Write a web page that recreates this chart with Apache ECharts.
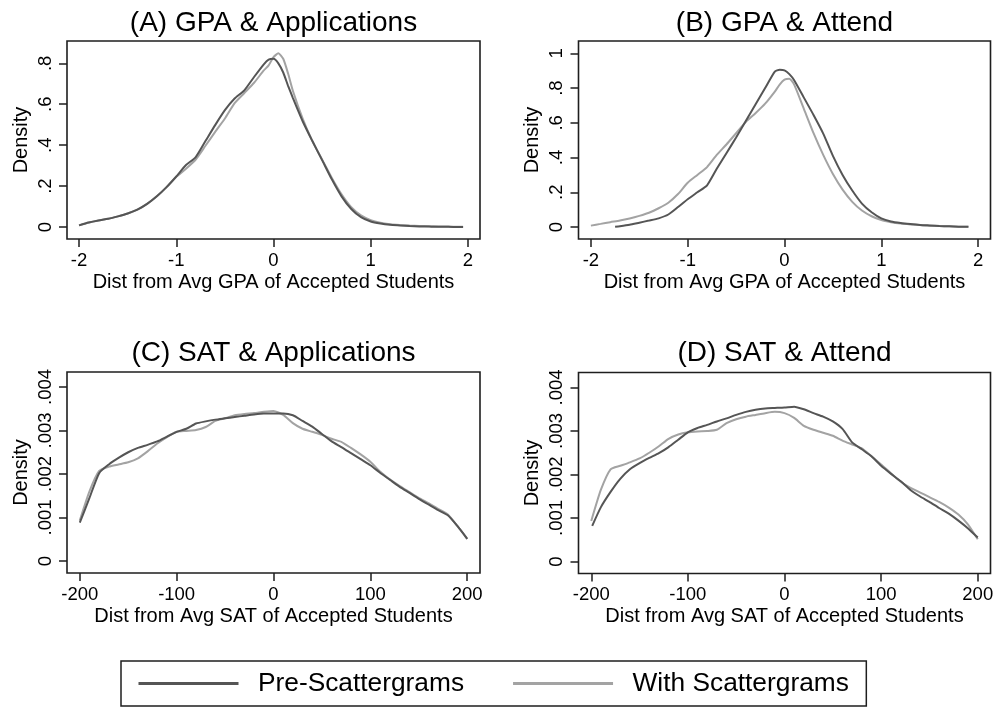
<!DOCTYPE html>
<html>
<head>
<meta charset="utf-8">
<script src="https://cdn.jsdelivr.net/npm/echarts@6/dist/echarts.min.js"></script>
<style>
  html, body { margin: 0; padding: 0; background: #fff; }
  #chart { width: 997px; height: 710px; }
</style>
</head>
<body>
<div id="chart"></div>
<script>
// ---------- DATA ----------
const seriesNames = ['Pre-Scattergrams', 'With Scattergrams'];
const panelTitles = ['(A) GPA & Applications', '(B) GPA & Attend', '(C) SAT & Applications', '(D) SAT & Attend'];
const xTitles = ['Dist from Avg GPA of Accepted Students', 'Dist from Avg GPA of Accepted Students',
                 'Dist from Avg SAT of Accepted Students', 'Dist from Avg SAT of Accepted Students'];
const yTitle = 'Density';

const gpaTicks = [-2, -1, 0, 1, 2];
const satTicks = [-200, -100, 0, 100, 200];
const yTicksA = [0, 0.2, 0.4, 0.6, 0.8];
const yTicksB = [0, 0.2, 0.4, 0.6, 0.8, 1];
const yTicksSAT = [0, 0.001, 0.002, 0.003, 0.004];

// Panel A
const xA = [-2,-1.9,-1.8,-1.7,-1.6,-1.5,-1.4,-1.3,-1.2,-1.1,-1,-0.9,-0.8,-0.7,-0.6,-0.5,-0.4,-0.3,-0.2,-0.1,-0.05,0,0.05,0.1,0.15,0.2,0.3,0.4,0.5,0.6,0.7,0.8,0.9,1,1.1,1.2,1.3,1.4,1.5,1.6,1.7,1.8,1.9,1.95];
const preA = [0.008,0.022,0.032,0.040,0.052,0.066,0.085,0.113,0.150,0.195,0.247,0.303,0.342,0.420,0.498,0.571,0.628,0.668,0.733,0.795,0.818,0.822,0.800,0.755,0.690,0.630,0.517,0.420,0.327,0.233,0.150,0.088,0.048,0.027,0.017,0.011,0.008,0.005,0.003,0.002,0.001,0.001,0.000,0.000];
const withA = [0.008,0.022,0.032,0.040,0.052,0.066,0.085,0.113,0.150,0.195,0.245,0.285,0.330,0.397,0.465,0.530,0.605,0.655,0.705,0.765,0.790,0.830,0.849,0.822,0.750,0.665,0.530,0.420,0.330,0.240,0.160,0.097,0.057,0.034,0.021,0.014,0.010,0.007,0.005,0.004,0.003,0.002,0.001,0.001];

// Panel B
const xBpre = [-1.75,-1.7,-1.6,-1.5,-1.4,-1.3,-1.2,-1.1,-1,-0.9,-0.8,-0.7,-0.6,-0.5,-0.4,-0.3,-0.2,-0.1,-0.05,0,0.05,0.1,0.2,0.3,0.4,0.5,0.6,0.7,0.8,0.9,1,1.1,1.2,1.3,1.4,1.5,1.6,1.7,1.8,1.9];
const preB = [0.002,0.005,0.013,0.025,0.037,0.050,0.072,0.115,0.160,0.200,0.240,0.335,0.425,0.515,0.610,0.705,0.800,0.895,0.906,0.902,0.880,0.845,0.745,0.645,0.538,0.410,0.300,0.210,0.135,0.085,0.050,0.032,0.023,0.017,0.012,0.009,0.006,0.004,0.002,0.001];
const xBwith = [-2,-1.9,-1.8,-1.7,-1.6,-1.5,-1.4,-1.3,-1.2,-1.1,-1,-0.9,-0.8,-0.7,-0.6,-0.5,-0.4,-0.3,-0.2,-0.1,-0.05,0,0.05,0.1,0.2,0.3,0.4,0.5,0.6,0.7,0.8,0.9,1,1.1,1.2,1.3,1.4,1.5,1.6,1.7,1.8,1.9];
const withB = [0.008,0.018,0.028,0.037,0.049,0.064,0.082,0.108,0.140,0.190,0.255,0.300,0.345,0.415,0.475,0.540,0.605,0.655,0.710,0.780,0.820,0.848,0.853,0.820,0.680,0.540,0.415,0.305,0.215,0.145,0.095,0.062,0.040,0.028,0.020,0.015,0.011,0.008,0.006,0.004,0.002,0.001];

// Panel C
const xC = [-200,-190,-180,-170,-160,-150,-140,-130,-120,-110,-100,-90,-80,-70,-60,-50,-40,-30,-20,-10,0,10,20,30,40,50,60,70,80,90,100,110,120,130,140,150,160,170,180,190,200];
const preC = [0.00088,0.00145,0.00202,0.00222,0.00237,0.00250,0.00260,0.00267,0.00275,0.00286,0.00297,0.00304,0.00316,0.00321,0.00325,0.00328,0.00331,0.00334,0.00337,0.00339,0.00339,0.00339,0.00335,0.00322,0.00309,0.00292,0.00275,0.00262,0.00248,0.00234,0.00220,0.00203,0.00187,0.00171,0.00157,0.00143,0.00130,0.00117,0.00105,0.00080,0.00051];
const withC = [0.00093,0.00160,0.00207,0.00217,0.00222,0.00227,0.00236,0.00252,0.00270,0.00285,0.00297,0.00299,0.00301,0.00308,0.00322,0.00328,0.00335,0.00338,0.00340,0.00343,0.00345,0.00336,0.00317,0.00304,0.00297,0.00290,0.00281,0.00274,0.00260,0.00245,0.00228,0.00206,0.00188,0.00173,0.00159,0.00145,0.00133,0.00120,0.00107,0.00080,0.00051];

// Panel D
const xDpre = [-199,-190,-180,-170,-160,-150,-140,-130,-120,-110,-100,-90,-80,-70,-60,-50,-40,-30,-20,-10,0,10,20,30,40,50,60,70,80,90,100,110,120,130,140,150,160,170,180,190,200];
const preD = [0.00082,0.00125,0.00160,0.00190,0.00212,0.00226,0.00238,0.00249,0.00263,0.00280,0.00297,0.00307,0.00314,0.00322,0.00329,0.00337,0.00344,0.00349,0.00352,0.00353,0.00354,0.00356,0.00350,0.00341,0.00333,0.00322,0.00305,0.00274,0.00258,0.00242,0.00220,0.00202,0.00185,0.00165,0.00150,0.00137,0.00123,0.00110,0.00094,0.00076,0.00055];
const xDwith = [-200,-190,-180,-170,-160,-150,-140,-130,-120,-110,-100,-90,-80,-70,-60,-50,-40,-30,-20,-10,0,10,20,30,40,50,60,70,80,90,100,110,120,130,140,150,160,170,180,190,200];
const withD = [0.00093,0.00165,0.00212,0.00220,0.00228,0.00237,0.00250,0.00265,0.00282,0.00292,0.00297,0.00299,0.00300,0.00303,0.00318,0.00327,0.00333,0.00337,0.00341,0.00344,0.00341,0.00330,0.00312,0.00303,0.00296,0.00289,0.00278,0.00269,0.00260,0.00242,0.00223,0.00203,0.00184,0.00170,0.00159,0.00148,0.00137,0.00124,0.00108,0.00085,0.00051];

// ---------- BUILD ----------
const FONT = '"Liberation Sans", Arial, Helvetica, sans-serif';
const DARK = '#555555';
const LIGHT = '#a3a3a3';
const zip = (xs, ys) => xs.map((x, i) => [x, ys[i]]);
const yfmt = v => v === 0 ? '0' : String(v).replace(/^(-?)0\./, '$1.');

const grids = [
  { left: 67, top: 41, width: 413, height: 198 },
  { left: 578.5, top: 41, width: 412, height: 198 },
  { left: 67, top: 372, width: 413, height: 201 },
  { left: 578.5, top: 372.5, width: 412, height: 201 }
].map(g => Object.assign(g, { show: true, borderColor: '#1e1e1e', borderWidth: 1.6, backgroundColor: '#fff', containLabel: false, outerBoundsMode: 'none' }));

const xRanges = [[-2.124, 2.124], [-2.128, 2.128], [-213.2, 213.2], [-213.2, 213.2]];
const yRanges = [[-0.0585, 0.909], [-0.069, 1.071], [-0.000276, 0.004345], [-0.000276, 0.004345]];
const xTickSets = [gpaTicks, gpaTicks, satTicks, satTicks];
const yTickSets = [yTicksA, yTicksB, yTicksSAT, yTicksSAT];

const xAxis = xRanges.map((r, i) => ({
  type: 'value', gridIndex: i, min: r[0], max: r[1],
  axisLine: { show: false, onZero: false },
  axisTick: { show: true, inside: false, length: 8, lineStyle: { color: '#1e1e1e', width: 1.5 }, customValues: xTickSets[i] },
  axisLabel: { customValues: xTickSets[i], fontSize: 18.5, color: '#000', fontFamily: FONT, margin: 12 },
  splitLine: { show: false },
  name: xTitles[i], nameLocation: 'middle', nameGap: 33,
  nameTextStyle: { fontSize: 20, color: '#000', fontFamily: FONT }
}));

const yAxis = yRanges.map((r, i) => ({
  type: 'value', gridIndex: i, min: r[0], max: r[1],
  axisLine: { show: false, onZero: false },
  axisTick: { show: true, inside: false, length: 8, lineStyle: { color: '#1e1e1e', width: 1.5 }, customValues: yTickSets[i] },
  axisLabel: { customValues: yTickSets[i], rotate: 90, formatter: yfmt, fontSize: 18.5, color: '#000', fontFamily: FONT, margin: 12 },
  splitLine: { show: false },
  name: yTitle, nameLocation: 'middle', nameGap: 36, nameRotate: 90,
  nameTextStyle: { fontSize: 20, color: '#000', fontFamily: FONT }
}));

const titleCenters = [[273.5, 9], [784.5, 9], [273.5, 339], [784.5, 339]];
const title = panelTitles.map((t, i) => ({
  text: t, left: titleCenters[i][0], top: titleCenters[i][1], textAlign: 'center', padding: 0,
  textStyle: { fontSize: 28, fontWeight: 'normal', color: '#000', fontFamily: FONT }
}));

const panelData = [
  [zip(xA, preA), zip(xA, withA)],
  [zip(xBpre, preB), zip(xBwith, withB)],
  [zip(xC, preC), zip(xC, withC)],
  [zip(xDpre, preD), zip(xDwith, withD)]
];

const series = [];
panelData.forEach((pair, i) => {
  pair.forEach((data, k) => {
    const col = k === 0 ? DARK : LIGHT;
    series.push({
      name: seriesNames[k], type: 'line', xAxisIndex: i, yAxisIndex: i,
      data: data, symbol: 'none', showSymbol: false,
      smooth: 0.2,
      color: col, lineStyle: { color: col, width: 2 },
      z: k === 0 ? 3 : 2
    });
  });
});

const option = {
  backgroundColor: '#fff',
  animation: false,
  title: title,
  grid: grids,
  xAxis: xAxis,
  yAxis: yAxis,
  legend: {
    data: seriesNames,
    left: 121, top: 661,
    orient: 'horizontal',
    padding: [9, 17.5, 9, 17.5],
    borderColor: '#1e1e1e', borderWidth: 1.5,
    backgroundColor: '#fff',
    icon: 'rect', itemWidth: 100, itemHeight: 3,
    itemGap: 49,
    selectedMode: false,
    textStyle: { fontSize: 26.3, color: '#000', fontFamily: FONT, padding: [0, 0, 0, 14.5], lineHeight: 27 }
  },
  series: series
};

const chart = echarts.init(document.getElementById('chart'), null, { renderer: 'canvas' });
chart.setOption(option);
</script>
</body>
</html>
